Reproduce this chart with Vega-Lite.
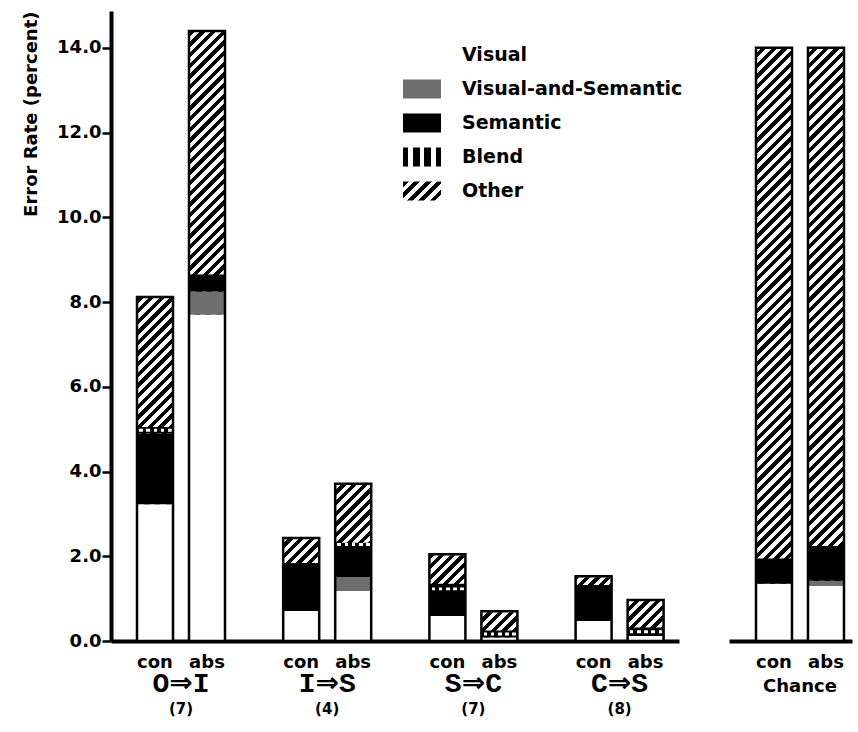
{
  "$schema": "https://vega.github.io/schema/vega-lite/v6.json",
  "padding": {"left": 22, "top": 10, "right": 5, "bottom": 5},
  "background": "white",
  "bounds": "flush",
  "spacing": 50,
  "resolve": {"legend": {"color": "independent", "fill": "independent", "shape": "independent"}, "scale": {"color": "independent", "fill": "independent", "shape": "independent"}},
  "datasets": {
    "main": [
      {"group": "O⇒I", "cond": "con", "category": "Visual", "value": 3.23},
      {"group": "O⇒I", "cond": "con", "category": "Semantic", "value": 1.67},
      {"group": "O⇒I", "cond": "con", "category": "Blend", "value": 0.15},
      {"group": "O⇒I", "cond": "con", "category": "Other", "value": 3.07},
      {"group": "O⇒I", "cond": "abs", "category": "Visual", "value": 7.7},
      {"group": "O⇒I", "cond": "abs", "category": "Visual-and-Semantic", "value": 0.55},
      {"group": "O⇒I", "cond": "abs", "category": "Semantic", "value": 0.4},
      {"group": "O⇒I", "cond": "abs", "category": "Other", "value": 5.75},
      {"group": "I⇒S", "cond": "con", "category": "Visual", "value": 0.71},
      {"group": "I⇒S", "cond": "con", "category": "Semantic", "value": 1.13},
      {"group": "I⇒S", "cond": "con", "category": "Other", "value": 0.59},
      {"group": "I⇒S", "cond": "abs", "category": "Visual", "value": 1.18},
      {"group": "I⇒S", "cond": "abs", "category": "Visual-and-Semantic", "value": 0.33},
      {"group": "I⇒S", "cond": "abs", "category": "Semantic", "value": 0.73},
      {"group": "I⇒S", "cond": "abs", "category": "Blend", "value": 0.08},
      {"group": "I⇒S", "cond": "abs", "category": "Other", "value": 1.39},
      {"group": "S⇒C", "cond": "con", "category": "Visual", "value": 0.59},
      {"group": "S⇒C", "cond": "con", "category": "Semantic", "value": 0.52},
      {"group": "S⇒C", "cond": "con", "category": "Blend", "value": 0.24},
      {"group": "S⇒C", "cond": "con", "category": "Other", "value": 0.7},
      {"group": "S⇒C", "cond": "abs", "category": "Visual", "value": 0.08},
      {"group": "S⇒C", "cond": "abs", "category": "Blend", "value": 0.17},
      {"group": "S⇒C", "cond": "abs", "category": "Other", "value": 0.45},
      {"group": "C⇒S", "cond": "con", "category": "Visual", "value": 0.47},
      {"group": "C⇒S", "cond": "con", "category": "Semantic", "value": 0.85},
      {"group": "C⇒S", "cond": "con", "category": "Other", "value": 0.21},
      {"group": "C⇒S", "cond": "abs", "category": "Visual", "value": 0.12},
      {"group": "C⇒S", "cond": "abs", "category": "Blend", "value": 0.2},
      {"group": "C⇒S", "cond": "abs", "category": "Other", "value": 0.65}
    ],
    "chance": [
      {"group": "Chance", "cond": "con", "category": "Visual", "value": 1.35},
      {"group": "Chance", "cond": "con", "category": "Semantic", "value": 0.6},
      {"group": "Chance", "cond": "con", "category": "Other", "value": 12.05},
      {"group": "Chance", "cond": "abs", "category": "Visual", "value": 1.3},
      {"group": "Chance", "cond": "abs", "category": "Visual-and-Semantic", "value": 0.12},
      {"group": "Chance", "cond": "abs", "category": "Semantic", "value": 0.82},
      {"group": "Chance", "cond": "abs", "category": "Other", "value": 11.76}
    ],
    "counts": [
      {"group": "O⇒I", "n": "(7)"},
      {"group": "I⇒S", "n": "(4)"},
      {"group": "S⇒C", "n": "(7)"},
      {"group": "C⇒S", "n": "(8)"}
    ],
    "categories": [
      {"category": "Visual"},
      {"category": "Visual-and-Semantic"},
      {"category": "Semantic"},
      {"category": "Blend"},
      {"category": "Other"}
    ]
  },
  "hconcat": [
    {
      "width": 568,
      "height": 630,
      "layer": [
        {
          "data": {"name": "main"},
          "transform": [{"aggregate": [{"op": "sum", "field": "value", "as": "total"}], "groupby": ["group", "cond"]}],
          "mark": {"type": "bar", "strokeWidth": 0, "fill": {"gradient": "linear", "x1": 0, "y1": 0, "x2": 0.06021, "y2": 1.0537, "stops": [
          {"offset": 0, "color": "#000"},
          {"offset": 0.008, "color": "#000"}, {"offset": 0.008, "color": "#fff"},
          {"offset": 0.016, "color": "#fff"}, {"offset": 0.016, "color": "#000"},
          {"offset": 0.024, "color": "#000"}, {"offset": 0.024, "color": "#fff"},
          {"offset": 0.032, "color": "#fff"}, {"offset": 0.032, "color": "#000"},
          {"offset": 0.04, "color": "#000"}, {"offset": 0.04, "color": "#fff"},
          {"offset": 0.048, "color": "#fff"}, {"offset": 0.048, "color": "#000"},
          {"offset": 0.056, "color": "#000"}, {"offset": 0.056, "color": "#fff"},
          {"offset": 0.064, "color": "#fff"}, {"offset": 0.064, "color": "#000"},
          {"offset": 0.072, "color": "#000"}, {"offset": 0.072, "color": "#fff"},
          {"offset": 0.08, "color": "#fff"}, {"offset": 0.08, "color": "#000"},
          {"offset": 0.088, "color": "#000"}, {"offset": 0.088, "color": "#fff"},
          {"offset": 0.096, "color": "#fff"}, {"offset": 0.096, "color": "#000"},
          {"offset": 0.104, "color": "#000"}, {"offset": 0.104, "color": "#fff"},
          {"offset": 0.112, "color": "#fff"}, {"offset": 0.112, "color": "#000"},
          {"offset": 0.12, "color": "#000"}, {"offset": 0.12, "color": "#fff"},
          {"offset": 0.128, "color": "#fff"}, {"offset": 0.128, "color": "#000"},
          {"offset": 0.136, "color": "#000"}, {"offset": 0.136, "color": "#fff"},
          {"offset": 0.144, "color": "#fff"}, {"offset": 0.144, "color": "#000"},
          {"offset": 0.152, "color": "#000"}, {"offset": 0.152, "color": "#fff"},
          {"offset": 0.16, "color": "#fff"}, {"offset": 0.16, "color": "#000"},
          {"offset": 0.168, "color": "#000"}, {"offset": 0.168, "color": "#fff"},
          {"offset": 0.176, "color": "#fff"}, {"offset": 0.176, "color": "#000"},
          {"offset": 0.184, "color": "#000"}, {"offset": 0.184, "color": "#fff"},
          {"offset": 0.192, "color": "#fff"}, {"offset": 0.192, "color": "#000"},
          {"offset": 0.2, "color": "#000"}, {"offset": 0.2, "color": "#fff"},
          {"offset": 0.208, "color": "#fff"}, {"offset": 0.208, "color": "#000"},
          {"offset": 0.216, "color": "#000"}, {"offset": 0.216, "color": "#fff"},
          {"offset": 0.224, "color": "#fff"}, {"offset": 0.224, "color": "#000"},
          {"offset": 0.232, "color": "#000"}, {"offset": 0.232, "color": "#fff"},
          {"offset": 0.24, "color": "#fff"}, {"offset": 0.24, "color": "#000"},
          {"offset": 0.248, "color": "#000"}, {"offset": 0.248, "color": "#fff"},
          {"offset": 0.256, "color": "#fff"}, {"offset": 0.256, "color": "#000"},
          {"offset": 0.264, "color": "#000"}, {"offset": 0.264, "color": "#fff"},
          {"offset": 0.272, "color": "#fff"}, {"offset": 0.272, "color": "#000"},
          {"offset": 0.28, "color": "#000"}, {"offset": 0.28, "color": "#fff"},
          {"offset": 0.288, "color": "#fff"}, {"offset": 0.288, "color": "#000"},
          {"offset": 0.296, "color": "#000"}, {"offset": 0.296, "color": "#fff"},
          {"offset": 0.304, "color": "#fff"}, {"offset": 0.304, "color": "#000"},
          {"offset": 0.312, "color": "#000"}, {"offset": 0.312, "color": "#fff"},
          {"offset": 0.32, "color": "#fff"}, {"offset": 0.32, "color": "#000"},
          {"offset": 0.328, "color": "#000"}, {"offset": 0.328, "color": "#fff"},
          {"offset": 0.336, "color": "#fff"}, {"offset": 0.336, "color": "#000"},
          {"offset": 0.344, "color": "#000"}, {"offset": 0.344, "color": "#fff"},
          {"offset": 0.352, "color": "#fff"}, {"offset": 0.352, "color": "#000"},
          {"offset": 0.36, "color": "#000"}, {"offset": 0.36, "color": "#fff"},
          {"offset": 0.368, "color": "#fff"}, {"offset": 0.368, "color": "#000"},
          {"offset": 0.376, "color": "#000"}, {"offset": 0.376, "color": "#fff"},
          {"offset": 0.384, "color": "#fff"}, {"offset": 0.384, "color": "#000"},
          {"offset": 0.392, "color": "#000"}, {"offset": 0.392, "color": "#fff"},
          {"offset": 0.4, "color": "#fff"}, {"offset": 0.4, "color": "#000"},
          {"offset": 0.408, "color": "#000"}, {"offset": 0.408, "color": "#fff"},
          {"offset": 0.416, "color": "#fff"}, {"offset": 0.416, "color": "#000"},
          {"offset": 0.424, "color": "#000"}, {"offset": 0.424, "color": "#fff"},
          {"offset": 0.432, "color": "#fff"}, {"offset": 0.432, "color": "#000"},
          {"offset": 0.44, "color": "#000"}, {"offset": 0.44, "color": "#fff"},
          {"offset": 0.448, "color": "#fff"}, {"offset": 0.448, "color": "#000"},
          {"offset": 0.456, "color": "#000"}, {"offset": 0.456, "color": "#fff"},
          {"offset": 0.464, "color": "#fff"}, {"offset": 0.464, "color": "#000"},
          {"offset": 0.472, "color": "#000"}, {"offset": 0.472, "color": "#fff"},
          {"offset": 0.48, "color": "#fff"}, {"offset": 0.48, "color": "#000"},
          {"offset": 0.488, "color": "#000"}, {"offset": 0.488, "color": "#fff"},
          {"offset": 0.496, "color": "#fff"}, {"offset": 0.496, "color": "#000"},
          {"offset": 0.504, "color": "#000"}, {"offset": 0.504, "color": "#fff"},
          {"offset": 0.512, "color": "#fff"}, {"offset": 0.512, "color": "#000"},
          {"offset": 0.52, "color": "#000"}, {"offset": 0.52, "color": "#fff"},
          {"offset": 0.528, "color": "#fff"}, {"offset": 0.528, "color": "#000"},
          {"offset": 0.536, "color": "#000"}, {"offset": 0.536, "color": "#fff"},
          {"offset": 0.544, "color": "#fff"}, {"offset": 0.544, "color": "#000"},
          {"offset": 0.552, "color": "#000"}, {"offset": 0.552, "color": "#fff"},
          {"offset": 0.56, "color": "#fff"}, {"offset": 0.56, "color": "#000"},
          {"offset": 0.568, "color": "#000"}, {"offset": 0.568, "color": "#fff"},
          {"offset": 0.576, "color": "#fff"}, {"offset": 0.576, "color": "#000"},
          {"offset": 0.584, "color": "#000"}, {"offset": 0.584, "color": "#fff"},
          {"offset": 0.592, "color": "#fff"}, {"offset": 0.592, "color": "#000"},
          {"offset": 0.6, "color": "#000"}, {"offset": 0.6, "color": "#fff"},
          {"offset": 0.608, "color": "#fff"}, {"offset": 0.608, "color": "#000"},
          {"offset": 0.616, "color": "#000"}, {"offset": 0.616, "color": "#fff"},
          {"offset": 0.624, "color": "#fff"}, {"offset": 0.624, "color": "#000"},
          {"offset": 0.632, "color": "#000"}, {"offset": 0.632, "color": "#fff"},
          {"offset": 0.64, "color": "#fff"}, {"offset": 0.64, "color": "#000"},
          {"offset": 0.648, "color": "#000"}, {"offset": 0.648, "color": "#fff"},
          {"offset": 0.656, "color": "#fff"}, {"offset": 0.656, "color": "#000"},
          {"offset": 0.664, "color": "#000"}, {"offset": 0.664, "color": "#fff"},
          {"offset": 0.672, "color": "#fff"}, {"offset": 0.672, "color": "#000"},
          {"offset": 0.68, "color": "#000"}, {"offset": 0.68, "color": "#fff"},
          {"offset": 0.688, "color": "#fff"}, {"offset": 0.688, "color": "#000"},
          {"offset": 0.696, "color": "#000"}, {"offset": 0.696, "color": "#fff"},
          {"offset": 0.704, "color": "#fff"}, {"offset": 0.704, "color": "#000"},
          {"offset": 0.712, "color": "#000"}, {"offset": 0.712, "color": "#fff"},
          {"offset": 0.72, "color": "#fff"}, {"offset": 0.72, "color": "#000"},
          {"offset": 0.728, "color": "#000"}, {"offset": 0.728, "color": "#fff"},
          {"offset": 0.736, "color": "#fff"}, {"offset": 0.736, "color": "#000"},
          {"offset": 0.744, "color": "#000"}, {"offset": 0.744, "color": "#fff"},
          {"offset": 0.752, "color": "#fff"}, {"offset": 0.752, "color": "#000"},
          {"offset": 0.76, "color": "#000"}, {"offset": 0.76, "color": "#fff"},
          {"offset": 0.768, "color": "#fff"}, {"offset": 0.768, "color": "#000"},
          {"offset": 0.776, "color": "#000"}, {"offset": 0.776, "color": "#fff"},
          {"offset": 0.784, "color": "#fff"}, {"offset": 0.784, "color": "#000"},
          {"offset": 0.792, "color": "#000"}, {"offset": 0.792, "color": "#fff"},
          {"offset": 0.8, "color": "#fff"}, {"offset": 0.8, "color": "#000"},
          {"offset": 0.808, "color": "#000"}, {"offset": 0.808, "color": "#fff"},
          {"offset": 0.816, "color": "#fff"}, {"offset": 0.816, "color": "#000"},
          {"offset": 0.824, "color": "#000"}, {"offset": 0.824, "color": "#fff"},
          {"offset": 0.832, "color": "#fff"}, {"offset": 0.832, "color": "#000"},
          {"offset": 0.84, "color": "#000"}, {"offset": 0.84, "color": "#fff"},
          {"offset": 0.848, "color": "#fff"}, {"offset": 0.848, "color": "#000"},
          {"offset": 0.856, "color": "#000"}, {"offset": 0.856, "color": "#fff"},
          {"offset": 0.864, "color": "#fff"}, {"offset": 0.864, "color": "#000"},
          {"offset": 0.872, "color": "#000"}, {"offset": 0.872, "color": "#fff"},
          {"offset": 0.88, "color": "#fff"}, {"offset": 0.88, "color": "#000"},
          {"offset": 0.888, "color": "#000"}, {"offset": 0.888, "color": "#fff"},
          {"offset": 0.896, "color": "#fff"}, {"offset": 0.896, "color": "#000"},
          {"offset": 0.904, "color": "#000"}, {"offset": 0.904, "color": "#fff"},
          {"offset": 0.912, "color": "#fff"}, {"offset": 0.912, "color": "#000"},
          {"offset": 0.92, "color": "#000"}, {"offset": 0.92, "color": "#fff"},
          {"offset": 0.928, "color": "#fff"}, {"offset": 0.928, "color": "#000"},
          {"offset": 0.936, "color": "#000"}, {"offset": 0.936, "color": "#fff"},
          {"offset": 0.944, "color": "#fff"}, {"offset": 0.944, "color": "#000"},
          {"offset": 0.952, "color": "#000"}, {"offset": 0.952, "color": "#fff"},
          {"offset": 0.96, "color": "#fff"}, {"offset": 0.96, "color": "#000"},
          {"offset": 0.968, "color": "#000"}, {"offset": 0.968, "color": "#fff"},
          {"offset": 0.976, "color": "#fff"}, {"offset": 0.976, "color": "#000"},
          {"offset": 0.984, "color": "#000"}, {"offset": 0.984, "color": "#fff"},
          {"offset": 0.992, "color": "#fff"}, {"offset": 0.992, "color": "#000"},
          {"offset": 1, "color": "#000"}
          ]}},
          "encoding": {
            "x": {"field": "group", "type": "nominal", "title": null, "scale": {"domain": ["O⇒I", "I⇒S", "S⇒C", "C⇒S"], "paddingInner": 0.3981, "paddingOuter": 0.1416, "align": 0.628, "round": false}, "axis": {"labelFont": "Liberation Mono, DejaVu Sans", "labelFontSize": 28, "labelFontWeight": "bold"}},
            "xOffset": {"field": "cond", "type": "nominal", "scale": {"domain": ["con", "abs"], "paddingInner": 0.3077, "paddingOuter": 0, "round": false}},
            "y": {"datum": 14.87, "type": "quantitative", "title": "Error Rate (percent)", "scale": {"domain": [0, 14.87], "nice": false, "zero": true}, "axis": {"values": [0, 2, 4, 6, 8, 10, 12, 14], "format": ".1f"}},
            "y2": {"datum": 0}
          }
        },
        {
          "data": {"name": "main"},
          "transform": [{"aggregate": [{"op": "sum", "field": "value", "as": "total"}], "groupby": ["group", "cond"]}],
          "mark": {"type": "bar", "fill": "white", "stroke": "white", "strokeWidth": 2},
          "encoding": {
            "x": {"field": "group", "type": "nominal", "title": null, "scale": {"domain": ["O⇒I", "I⇒S", "S⇒C", "C⇒S"]}},
            "xOffset": {"field": "cond", "type": "nominal", "scale": {"domain": ["con", "abs"]}},
            "y": {"field": "total", "type": "quantitative", "title": "Error Rate (percent)"},
            "y2": {"datum": 14.87}
          }
        },
        {
          "data": {"name": "main"},
          "transform": [
            {"calculate": "indexof(['Visual','Visual-and-Semantic','Semantic','Blend','Other'], datum.category)", "as": "rank"},
            {"stack": "value", "groupby": ["group", "cond"], "sort": [{"field": "rank", "order": "ascending"}], "as": ["v0", "v1"]}
          ],
          "mark": {"type": "bar", "strokeWidth": 0},
          "encoding": {
            "x": {"field": "group", "type": "nominal", "title": null, "scale": {"domain": ["O⇒I", "I⇒S", "S⇒C", "C⇒S"]}},
            "xOffset": {"field": "cond", "type": "nominal", "scale": {"domain": ["con", "abs"]}},
            "y": {"field": "v1", "type": "quantitative", "title": "Error Rate (percent)"},
            "y2": {"field": "v0"},
            "fill": {"field": "category", "type": "nominal", "legend": null, "scale": {"domain": ["Other", "Blend", "Semantic", "Visual-and-Semantic", "Visual"], "range": ["transparent", "#000000", "#000000", "#6e6e6e", "#ffffff"]}}
          }
        },
        {
          "data": {"name": "main"},
          "transform": [
            {"calculate": "indexof(['Visual','Visual-and-Semantic','Semantic','Blend','Other'], datum.category)", "as": "rank"},
            {"stack": "value", "groupby": ["group", "cond"], "sort": [{"field": "rank", "order": "ascending"}], "as": ["v0", "v1"]},
            {"filter": "datum.category === 'Blend'"},
            {"calculate": "(datum.v0 + datum.v1) / 2 + 0.035", "as": "d1"},
            {"calculate": "(datum.v0 + datum.v1) / 2 - 0.035", "as": "d0"}
          ],
          "mark": {"type": "bar", "strokeWidth": 0, "fill": {"gradient": "linear", "x1": 0, "y1": 0, "x2": 1, "y2": 0, "stops": [{"offset": 0, "color": "#000"}, {"offset": 0.06, "color": "#000"}, {"offset": 0.06, "color": "#fff"}, {"offset": 0.16, "color": "#fff"}, {"offset": 0.16, "color": "#000"}, {"offset": 0.26, "color": "#000"}, {"offset": 0.26, "color": "#fff"}, {"offset": 0.36, "color": "#fff"}, {"offset": 0.36, "color": "#000"}, {"offset": 0.46, "color": "#000"}, {"offset": 0.46, "color": "#fff"}, {"offset": 0.56, "color": "#fff"}, {"offset": 0.56, "color": "#000"}, {"offset": 0.66, "color": "#000"}, {"offset": 0.66, "color": "#fff"}, {"offset": 0.76, "color": "#fff"}, {"offset": 0.76, "color": "#000"}, {"offset": 0.86, "color": "#000"}, {"offset": 0.86, "color": "#fff"}, {"offset": 0.96, "color": "#fff"}, {"offset": 0.96, "color": "#000"}, {"offset": 1, "color": "#000"}]}},
          "encoding": {
            "x": {"field": "group", "type": "nominal", "title": null, "scale": {"domain": ["O⇒I", "I⇒S", "S⇒C", "C⇒S"]}},
            "xOffset": {"field": "cond", "type": "nominal", "scale": {"domain": ["con", "abs"]}},
            "y": {"field": "d1", "type": "quantitative", "title": "Error Rate (percent)"},
            "y2": {"field": "d0"}
          }
        },
        {
          "data": {"name": "main"},
          "transform": [{"aggregate": [{"op": "sum", "field": "value", "as": "total"}], "groupby": ["group", "cond"]}],
          "mark": {"type": "bar", "fill": "transparent", "stroke": "black", "strokeWidth": 2.5},
          "encoding": {
            "x": {"field": "group", "type": "nominal", "title": null, "scale": {"domain": ["O⇒I", "I⇒S", "S⇒C", "C⇒S"]}},
            "xOffset": {"field": "cond", "type": "nominal", "scale": {"domain": ["con", "abs"]}},
            "y": {"field": "total", "type": "quantitative", "title": "Error Rate (percent)"},
            "y2": {"datum": 0}
          }
        },
        {
          "data": {"name": "main"},
          "transform": [{"aggregate": [{"op": "count", "as": "k"}], "groupby": ["group", "cond"]}],
          "mark": {"type": "text", "font": "DejaVu Sans", "fontSize": 18, "fontWeight": "bold", "baseline": "alphabetic", "align": "center", "dy": 27, "color": "black"},
          "encoding": {
            "x": {"field": "group", "type": "nominal", "title": null, "scale": {"domain": ["O⇒I", "I⇒S", "S⇒C", "C⇒S"]}},
            "xOffset": {"field": "cond", "type": "nominal", "scale": {"domain": ["con", "abs"]}},
            "y": {"datum": 0, "type": "quantitative", "title": "Error Rate (percent)"},
            "text": {"field": "cond"}
          }
        },
        {
          "data": {"name": "counts"},
          "mark": {"type": "text", "font": "DejaVu Sans", "fontSize": 15, "fontWeight": "bold", "baseline": "alphabetic", "align": "center", "dy": 73, "color": "black"},
          "encoding": {
            "x": {"field": "group", "type": "nominal", "title": null, "scale": {"domain": ["O⇒I", "I⇒S", "S⇒C", "C⇒S"]}},
            "y": {"datum": 0, "type": "quantitative", "title": "Error Rate (percent)"},
            "text": {"field": "n"}
          }
        },
        {
          "data": {"name": "categories"},
          "mark": {"type": "point", "filled": true, "opacity": 0, "strokeOpacity": 1, "stroke": "black", "strokeWidth": 2,
            "fill": {"expr": "datum.value === 'Other' ? {gradient: 'linear', x1: 0, y1: 0, x2: 1.2, y2: 0.6, stops: [{offset: 0, color: '#000'}, {offset: 0.1, color: '#000'}, {offset: 0.1, color: '#fff'}, {offset: 0.2, color: '#fff'}, {offset: 0.2, color: '#000'}, {offset: 0.3, color: '#000'}, {offset: 0.3, color: '#fff'}, {offset: 0.4, color: '#fff'}, {offset: 0.4, color: '#000'}, {offset: 0.5, color: '#000'}, {offset: 0.5, color: '#fff'}, {offset: 0.6, color: '#fff'}, {offset: 0.6, color: '#000'}, {offset: 0.7, color: '#000'}, {offset: 0.7, color: '#fff'}, {offset: 0.8, color: '#fff'}, {offset: 0.8, color: '#000'}, {offset: 0.9, color: '#000'}, {offset: 0.9, color: '#fff'}, {offset: 1, color: '#fff'}]} : datum.value === 'Blend' ? {gradient: 'linear', x1: 0, y1: 0, x2: 1, y2: 0, stops: [{offset: 0, color: '#000'}, {offset: 0.14, color: '#000'}, {offset: 0.14, color: '#fff'}, {offset: 0.26, color: '#fff'}, {offset: 0.26, color: '#000'}, {offset: 0.44, color: '#000'}, {offset: 0.44, color: '#fff'}, {offset: 0.56, color: '#fff'}, {offset: 0.56, color: '#000'}, {offset: 0.74, color: '#000'}, {offset: 0.74, color: '#fff'}, {offset: 0.86, color: '#fff'}, {offset: 0.86, color: '#000'}, {offset: 1, color: '#000'}]} : datum.value === 'Semantic' ? '#000000' : datum.value === 'Visual-and-Semantic' ? '#6e6e6e' : '#ffffff'"}},
          "encoding": {
            "y": {"datum": 0, "type": "quantitative", "title": "Error Rate (percent)"},
            "stroke": {"value": "black"},
            "strokeWidth": {"value": 2},
            "shape": {"field": "category", "type": "nominal",
              "scale": {"domain": ["Visual", "Visual-and-Semantic", "Semantic", "Blend", "Other"], "range": ["M-1,-0.5H1V0.5H-1Z", "M-1,-0.5H1V0.5H-1Z", "M-1,-0.5H1V0.5H-1Z", "M-1,-0.5H1V0.5H-1Z", "M-1,-0.5H1V0.5H-1Z"]},
              "legend": {"title": null, "orient": "none", "legendX": 291, "legendY": 24, "symbolSize": 1444, "symbolOpacity": 1, "symbolStrokeColor": "black", "symbolStrokeWidth": 2, "labelFont": "DejaVu Sans", "labelFontSize": 19, "labelFontWeight": "bold", "labelColor": "black", "labelOffset": 20, "labelLimit": 0, "rowPadding": 0, "zindex": 1}
            }
          }
        }
      ]
    },
    {
      "width": 123,
      "height": 630,
      "layer": [
        {
          "data": {"name": "chance"},
          "transform": [{"aggregate": [{"op": "sum", "field": "value", "as": "total"}], "groupby": ["group", "cond"]}],
          "mark": {"type": "bar", "strokeWidth": 0, "fill": {"gradient": "linear", "x1": 0, "y1": 0, "x2": 0.06021, "y2": 1.0537, "stops": [
          {"offset": 0, "color": "#000"},
          {"offset": 0.008, "color": "#000"}, {"offset": 0.008, "color": "#fff"},
          {"offset": 0.016, "color": "#fff"}, {"offset": 0.016, "color": "#000"},
          {"offset": 0.024, "color": "#000"}, {"offset": 0.024, "color": "#fff"},
          {"offset": 0.032, "color": "#fff"}, {"offset": 0.032, "color": "#000"},
          {"offset": 0.04, "color": "#000"}, {"offset": 0.04, "color": "#fff"},
          {"offset": 0.048, "color": "#fff"}, {"offset": 0.048, "color": "#000"},
          {"offset": 0.056, "color": "#000"}, {"offset": 0.056, "color": "#fff"},
          {"offset": 0.064, "color": "#fff"}, {"offset": 0.064, "color": "#000"},
          {"offset": 0.072, "color": "#000"}, {"offset": 0.072, "color": "#fff"},
          {"offset": 0.08, "color": "#fff"}, {"offset": 0.08, "color": "#000"},
          {"offset": 0.088, "color": "#000"}, {"offset": 0.088, "color": "#fff"},
          {"offset": 0.096, "color": "#fff"}, {"offset": 0.096, "color": "#000"},
          {"offset": 0.104, "color": "#000"}, {"offset": 0.104, "color": "#fff"},
          {"offset": 0.112, "color": "#fff"}, {"offset": 0.112, "color": "#000"},
          {"offset": 0.12, "color": "#000"}, {"offset": 0.12, "color": "#fff"},
          {"offset": 0.128, "color": "#fff"}, {"offset": 0.128, "color": "#000"},
          {"offset": 0.136, "color": "#000"}, {"offset": 0.136, "color": "#fff"},
          {"offset": 0.144, "color": "#fff"}, {"offset": 0.144, "color": "#000"},
          {"offset": 0.152, "color": "#000"}, {"offset": 0.152, "color": "#fff"},
          {"offset": 0.16, "color": "#fff"}, {"offset": 0.16, "color": "#000"},
          {"offset": 0.168, "color": "#000"}, {"offset": 0.168, "color": "#fff"},
          {"offset": 0.176, "color": "#fff"}, {"offset": 0.176, "color": "#000"},
          {"offset": 0.184, "color": "#000"}, {"offset": 0.184, "color": "#fff"},
          {"offset": 0.192, "color": "#fff"}, {"offset": 0.192, "color": "#000"},
          {"offset": 0.2, "color": "#000"}, {"offset": 0.2, "color": "#fff"},
          {"offset": 0.208, "color": "#fff"}, {"offset": 0.208, "color": "#000"},
          {"offset": 0.216, "color": "#000"}, {"offset": 0.216, "color": "#fff"},
          {"offset": 0.224, "color": "#fff"}, {"offset": 0.224, "color": "#000"},
          {"offset": 0.232, "color": "#000"}, {"offset": 0.232, "color": "#fff"},
          {"offset": 0.24, "color": "#fff"}, {"offset": 0.24, "color": "#000"},
          {"offset": 0.248, "color": "#000"}, {"offset": 0.248, "color": "#fff"},
          {"offset": 0.256, "color": "#fff"}, {"offset": 0.256, "color": "#000"},
          {"offset": 0.264, "color": "#000"}, {"offset": 0.264, "color": "#fff"},
          {"offset": 0.272, "color": "#fff"}, {"offset": 0.272, "color": "#000"},
          {"offset": 0.28, "color": "#000"}, {"offset": 0.28, "color": "#fff"},
          {"offset": 0.288, "color": "#fff"}, {"offset": 0.288, "color": "#000"},
          {"offset": 0.296, "color": "#000"}, {"offset": 0.296, "color": "#fff"},
          {"offset": 0.304, "color": "#fff"}, {"offset": 0.304, "color": "#000"},
          {"offset": 0.312, "color": "#000"}, {"offset": 0.312, "color": "#fff"},
          {"offset": 0.32, "color": "#fff"}, {"offset": 0.32, "color": "#000"},
          {"offset": 0.328, "color": "#000"}, {"offset": 0.328, "color": "#fff"},
          {"offset": 0.336, "color": "#fff"}, {"offset": 0.336, "color": "#000"},
          {"offset": 0.344, "color": "#000"}, {"offset": 0.344, "color": "#fff"},
          {"offset": 0.352, "color": "#fff"}, {"offset": 0.352, "color": "#000"},
          {"offset": 0.36, "color": "#000"}, {"offset": 0.36, "color": "#fff"},
          {"offset": 0.368, "color": "#fff"}, {"offset": 0.368, "color": "#000"},
          {"offset": 0.376, "color": "#000"}, {"offset": 0.376, "color": "#fff"},
          {"offset": 0.384, "color": "#fff"}, {"offset": 0.384, "color": "#000"},
          {"offset": 0.392, "color": "#000"}, {"offset": 0.392, "color": "#fff"},
          {"offset": 0.4, "color": "#fff"}, {"offset": 0.4, "color": "#000"},
          {"offset": 0.408, "color": "#000"}, {"offset": 0.408, "color": "#fff"},
          {"offset": 0.416, "color": "#fff"}, {"offset": 0.416, "color": "#000"},
          {"offset": 0.424, "color": "#000"}, {"offset": 0.424, "color": "#fff"},
          {"offset": 0.432, "color": "#fff"}, {"offset": 0.432, "color": "#000"},
          {"offset": 0.44, "color": "#000"}, {"offset": 0.44, "color": "#fff"},
          {"offset": 0.448, "color": "#fff"}, {"offset": 0.448, "color": "#000"},
          {"offset": 0.456, "color": "#000"}, {"offset": 0.456, "color": "#fff"},
          {"offset": 0.464, "color": "#fff"}, {"offset": 0.464, "color": "#000"},
          {"offset": 0.472, "color": "#000"}, {"offset": 0.472, "color": "#fff"},
          {"offset": 0.48, "color": "#fff"}, {"offset": 0.48, "color": "#000"},
          {"offset": 0.488, "color": "#000"}, {"offset": 0.488, "color": "#fff"},
          {"offset": 0.496, "color": "#fff"}, {"offset": 0.496, "color": "#000"},
          {"offset": 0.504, "color": "#000"}, {"offset": 0.504, "color": "#fff"},
          {"offset": 0.512, "color": "#fff"}, {"offset": 0.512, "color": "#000"},
          {"offset": 0.52, "color": "#000"}, {"offset": 0.52, "color": "#fff"},
          {"offset": 0.528, "color": "#fff"}, {"offset": 0.528, "color": "#000"},
          {"offset": 0.536, "color": "#000"}, {"offset": 0.536, "color": "#fff"},
          {"offset": 0.544, "color": "#fff"}, {"offset": 0.544, "color": "#000"},
          {"offset": 0.552, "color": "#000"}, {"offset": 0.552, "color": "#fff"},
          {"offset": 0.56, "color": "#fff"}, {"offset": 0.56, "color": "#000"},
          {"offset": 0.568, "color": "#000"}, {"offset": 0.568, "color": "#fff"},
          {"offset": 0.576, "color": "#fff"}, {"offset": 0.576, "color": "#000"},
          {"offset": 0.584, "color": "#000"}, {"offset": 0.584, "color": "#fff"},
          {"offset": 0.592, "color": "#fff"}, {"offset": 0.592, "color": "#000"},
          {"offset": 0.6, "color": "#000"}, {"offset": 0.6, "color": "#fff"},
          {"offset": 0.608, "color": "#fff"}, {"offset": 0.608, "color": "#000"},
          {"offset": 0.616, "color": "#000"}, {"offset": 0.616, "color": "#fff"},
          {"offset": 0.624, "color": "#fff"}, {"offset": 0.624, "color": "#000"},
          {"offset": 0.632, "color": "#000"}, {"offset": 0.632, "color": "#fff"},
          {"offset": 0.64, "color": "#fff"}, {"offset": 0.64, "color": "#000"},
          {"offset": 0.648, "color": "#000"}, {"offset": 0.648, "color": "#fff"},
          {"offset": 0.656, "color": "#fff"}, {"offset": 0.656, "color": "#000"},
          {"offset": 0.664, "color": "#000"}, {"offset": 0.664, "color": "#fff"},
          {"offset": 0.672, "color": "#fff"}, {"offset": 0.672, "color": "#000"},
          {"offset": 0.68, "color": "#000"}, {"offset": 0.68, "color": "#fff"},
          {"offset": 0.688, "color": "#fff"}, {"offset": 0.688, "color": "#000"},
          {"offset": 0.696, "color": "#000"}, {"offset": 0.696, "color": "#fff"},
          {"offset": 0.704, "color": "#fff"}, {"offset": 0.704, "color": "#000"},
          {"offset": 0.712, "color": "#000"}, {"offset": 0.712, "color": "#fff"},
          {"offset": 0.72, "color": "#fff"}, {"offset": 0.72, "color": "#000"},
          {"offset": 0.728, "color": "#000"}, {"offset": 0.728, "color": "#fff"},
          {"offset": 0.736, "color": "#fff"}, {"offset": 0.736, "color": "#000"},
          {"offset": 0.744, "color": "#000"}, {"offset": 0.744, "color": "#fff"},
          {"offset": 0.752, "color": "#fff"}, {"offset": 0.752, "color": "#000"},
          {"offset": 0.76, "color": "#000"}, {"offset": 0.76, "color": "#fff"},
          {"offset": 0.768, "color": "#fff"}, {"offset": 0.768, "color": "#000"},
          {"offset": 0.776, "color": "#000"}, {"offset": 0.776, "color": "#fff"},
          {"offset": 0.784, "color": "#fff"}, {"offset": 0.784, "color": "#000"},
          {"offset": 0.792, "color": "#000"}, {"offset": 0.792, "color": "#fff"},
          {"offset": 0.8, "color": "#fff"}, {"offset": 0.8, "color": "#000"},
          {"offset": 0.808, "color": "#000"}, {"offset": 0.808, "color": "#fff"},
          {"offset": 0.816, "color": "#fff"}, {"offset": 0.816, "color": "#000"},
          {"offset": 0.824, "color": "#000"}, {"offset": 0.824, "color": "#fff"},
          {"offset": 0.832, "color": "#fff"}, {"offset": 0.832, "color": "#000"},
          {"offset": 0.84, "color": "#000"}, {"offset": 0.84, "color": "#fff"},
          {"offset": 0.848, "color": "#fff"}, {"offset": 0.848, "color": "#000"},
          {"offset": 0.856, "color": "#000"}, {"offset": 0.856, "color": "#fff"},
          {"offset": 0.864, "color": "#fff"}, {"offset": 0.864, "color": "#000"},
          {"offset": 0.872, "color": "#000"}, {"offset": 0.872, "color": "#fff"},
          {"offset": 0.88, "color": "#fff"}, {"offset": 0.88, "color": "#000"},
          {"offset": 0.888, "color": "#000"}, {"offset": 0.888, "color": "#fff"},
          {"offset": 0.896, "color": "#fff"}, {"offset": 0.896, "color": "#000"},
          {"offset": 0.904, "color": "#000"}, {"offset": 0.904, "color": "#fff"},
          {"offset": 0.912, "color": "#fff"}, {"offset": 0.912, "color": "#000"},
          {"offset": 0.92, "color": "#000"}, {"offset": 0.92, "color": "#fff"},
          {"offset": 0.928, "color": "#fff"}, {"offset": 0.928, "color": "#000"},
          {"offset": 0.936, "color": "#000"}, {"offset": 0.936, "color": "#fff"},
          {"offset": 0.944, "color": "#fff"}, {"offset": 0.944, "color": "#000"},
          {"offset": 0.952, "color": "#000"}, {"offset": 0.952, "color": "#fff"},
          {"offset": 0.96, "color": "#fff"}, {"offset": 0.96, "color": "#000"},
          {"offset": 0.968, "color": "#000"}, {"offset": 0.968, "color": "#fff"},
          {"offset": 0.976, "color": "#fff"}, {"offset": 0.976, "color": "#000"},
          {"offset": 0.984, "color": "#000"}, {"offset": 0.984, "color": "#fff"},
          {"offset": 0.992, "color": "#fff"}, {"offset": 0.992, "color": "#000"},
          {"offset": 1, "color": "#000"}
          ]}},
          "encoding": {
            "x": {"field": "group", "type": "nominal", "title": null, "scale": {"domain": ["Chance"], "paddingInner": 0, "paddingOuter": 0.1989, "align": 0.771, "round": false}, "axis": {"labelFont": "DejaVu Sans", "labelFontSize": 18, "labelFontWeight": "bold"}},
            "xOffset": {"field": "cond", "type": "nominal", "scale": {"domain": ["con", "abs"], "paddingInner": 0.3077, "paddingOuter": 0, "round": false}},
            "y": {"datum": 14.87, "type": "quantitative", "scale": {"domain": [0, 14.87], "nice": false, "zero": true}, "axis": null},
            "y2": {"datum": 0}
          }
        },
        {
          "data": {"name": "chance"},
          "transform": [{"aggregate": [{"op": "sum", "field": "value", "as": "total"}], "groupby": ["group", "cond"]}],
          "mark": {"type": "bar", "fill": "white", "stroke": "white", "strokeWidth": 2},
          "encoding": {
            "x": {"field": "group", "type": "nominal", "title": null, "scale": {"domain": ["Chance"]}},
            "xOffset": {"field": "cond", "type": "nominal", "scale": {"domain": ["con", "abs"]}},
            "y": {"field": "total", "type": "quantitative", "axis": null},
            "y2": {"datum": 14.87}
          }
        },
        {
          "data": {"name": "chance"},
          "transform": [
            {"calculate": "indexof(['Visual','Visual-and-Semantic','Semantic','Blend','Other'], datum.category)", "as": "rank"},
            {"stack": "value", "groupby": ["group", "cond"], "sort": [{"field": "rank", "order": "ascending"}], "as": ["v0", "v1"]}
          ],
          "mark": {"type": "bar", "strokeWidth": 0},
          "encoding": {
            "x": {"field": "group", "type": "nominal", "title": null, "scale": {"domain": ["Chance"]}},
            "xOffset": {"field": "cond", "type": "nominal", "scale": {"domain": ["con", "abs"]}},
            "y": {"field": "v1", "type": "quantitative", "axis": null},
            "y2": {"field": "v0"},
            "fill": {"field": "category", "type": "nominal", "legend": null, "scale": {"domain": ["Visual", "Visual-and-Semantic", "Semantic", "Other"], "range": ["#ffffff", "#6e6e6e", "#000000", "transparent"]}}
          }
        },
        {
          "data": {"name": "chance"},
          "transform": [{"aggregate": [{"op": "sum", "field": "value", "as": "total"}], "groupby": ["group", "cond"]}],
          "mark": {"type": "bar", "fill": "transparent", "stroke": "black", "strokeWidth": 2.5},
          "encoding": {
            "x": {"field": "group", "type": "nominal", "title": null, "scale": {"domain": ["Chance"]}},
            "xOffset": {"field": "cond", "type": "nominal", "scale": {"domain": ["con", "abs"]}},
            "y": {"field": "total", "type": "quantitative", "axis": null},
            "y2": {"datum": 0}
          }
        },
        {
          "data": {"name": "chance"},
          "transform": [{"aggregate": [{"op": "count", "as": "k"}], "groupby": ["group", "cond"]}],
          "mark": {"type": "text", "font": "DejaVu Sans", "fontSize": 18, "fontWeight": "bold", "baseline": "alphabetic", "align": "center", "dy": 27, "color": "black"},
          "encoding": {
            "x": {"field": "group", "type": "nominal", "title": null, "scale": {"domain": ["Chance"]}},
            "xOffset": {"field": "cond", "type": "nominal", "scale": {"domain": ["con", "abs"]}},
            "y": {"datum": 0, "type": "quantitative", "axis": null},
            "text": {"field": "cond"}
          }
        }
      ]
    }
  ],
  "config": {
    "view": {"stroke": null},
    "font": "DejaVu Sans",
    "axis": {"domainColor": "black", "domainWidth": 4, "labelColor": "black", "tickColor": "black", "titleColor": "black", "grid": false},
    "axisY": {"tickSize": 9, "tickWidth": 2.5, "labelFont": "DejaVu Sans", "labelFontSize": 18, "labelFontWeight": "bold", "labelPadding": 1, "titleFont": "DejaVu Sans", "titleFontSize": 18, "titleFontWeight": "bold", "titlePadding": 16, "titleAnchor": "end"},
    "axisX": {"ticks": false, "labelAngle": 0, "labelBaseline": "alphabetic", "labelPadding": 50}
  }
}
